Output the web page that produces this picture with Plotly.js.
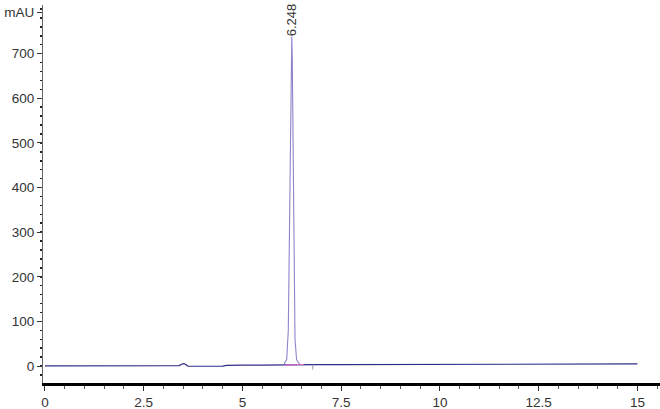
<!DOCTYPE html>
<html>
<head>
<meta charset="utf-8">
<script src="https://cdn.plot.ly/plotly-3.0.1.min.js"></script>
<style>
  html, body { margin: 0; padding: 0; background: #fff; }
  #chart { width: 660px; height: 409px; }
</style>
</head>
<body>
<div id="chart"></div>
<script>
// retention time (min) and signal (mAU)
var time_min = [0, 1.0, 2.0, 3.0, 3.40, 3.47, 3.52, 3.57, 3.62, 3.70, 4.0, 4.5, 4.6, 4.7, 5.0, 5.5,
    5.9, 6.05, 6.45, 6.6, 6.9, 7.5, 8.5, 9.0, 9.6, 10.0, 11.0, 12.0, 13.0, 13.3, 14.0, 15.0];
var signal_mAU = [0.5, 0.5, 0.4, 0.5, 1.0, 4.5, 5.5, 3.0, 0.0, -0.5, -0.5, -0.3, 1.5, 2.0, 2.0, 2.2,
    2.5, 3.5, 4, 3, 3, 3, 3.2, 3.5, 3.3, 3.4, 3.5, 3.6, 3.8, 4.5, 4.6, 4.8];

// main peak part of the same signal
var peak_time = [6.05, 6.12, 6.16, 6.19, 6.21, 6.23, 6.248, 6.26, 6.28, 6.30, 6.33, 6.37, 6.45];
var peak_mAU = [3.5, 15, 80, 300, 560, 715, 738, 690, 480, 220, 60, 14, 4];

// integration baseline under the main peak
var base_t = [6.08, 6.55];
var base_y = [2.0, 3.5];
// integration end mark
var mark_t = [6.78, 6.78];
var mark_y = [3, -8];

var peak_label = "6.248";
var peak_t = 6.248;
var label_y = 735;

var y_ticks = [0, 100, 200, 300, 400, 500, 600, 700, 793];
var y_labels = ["0", "100", "200", "300", "400", "500", "600", "700", "mAU"];
var x_ticks = [0, 2.5, 5, 7.5, 10, 12.5, 15];
var x_labels = ["0", "2.5", "5", "7.5", "10", "12.5", "15"];

var traces = [
    {
        x: time_min, y: signal_mAU, type: 'scatter', mode: 'lines',
        line: {color: '#2e2e86', width: 1.2}, hoverinfo: 'skip'
    },
    {
        x: peak_time, y: peak_mAU, type: 'scatter', mode: 'lines',
        line: {color: '#8c84cc', width: 1.1}, hoverinfo: 'skip'
    },
    {
        x: base_t, y: base_y, type: 'scatter', mode: 'lines',
        line: {color: '#e070c8', width: 1.2}, hoverinfo: 'skip'
    },
    {
        x: mark_t, y: mark_y, type: 'scatter', mode: 'lines',
        line: {color: '#9a9aa8', width: 1}, hoverinfo: 'skip'
    }
];

var tick_font = {family: '"Liberation Sans", Arial, sans-serif', size: 13.5, color: '#333'};

var layout = {
    width: 660, height: 409,
    margin: {l: 43, r: 0, t: 5, b: 26},
    paper_bgcolor: '#fff', plot_bgcolor: '#fff',
    showlegend: false,
    xaxis: {
        range: [-0.05, 15.57],
        tickvals: x_ticks, ticktext: x_labels,
        showgrid: false, zeroline: false,
        showline: true, linecolor: '#000', linewidth: 2.5,
        ticks: 'outside', ticklen: 5, tickcolor: '#333', tickwidth: 1,
        minor: {dtick: 0.5, ticks: 'outside', ticklen: 3, tickcolor: '#555', showgrid: false},
        tickfont: tick_font
    },
    yaxis: {
        range: [-38, 809],
        tickvals: y_ticks, ticktext: y_labels,
        showgrid: false, zeroline: false,
        showline: true, linecolor: '#666', linewidth: 1,
        ticks: 'outside', ticklen: 5, tickcolor: '#333', tickwidth: 1,
        minor: {dtick: 20, ticks: 'outside', ticklen: 2, tickcolor: '#222', tickwidth: 1.5, showgrid: false},
        tickfont: tick_font
    },
    annotations: [{
        x: peak_t, y: label_y, xref: 'x', yref: 'y',
        text: peak_label, showarrow: false, textangle: -90,
        xanchor: 'center', yanchor: 'bottom',
        font: {family: '"Liberation Sans", Arial, sans-serif', size: 13, color: '#333'}
    }]
};

Plotly.newPlot('chart', traces, layout, {staticPlot: true, displayModeBar: false});
</script>
</body>
</html>
